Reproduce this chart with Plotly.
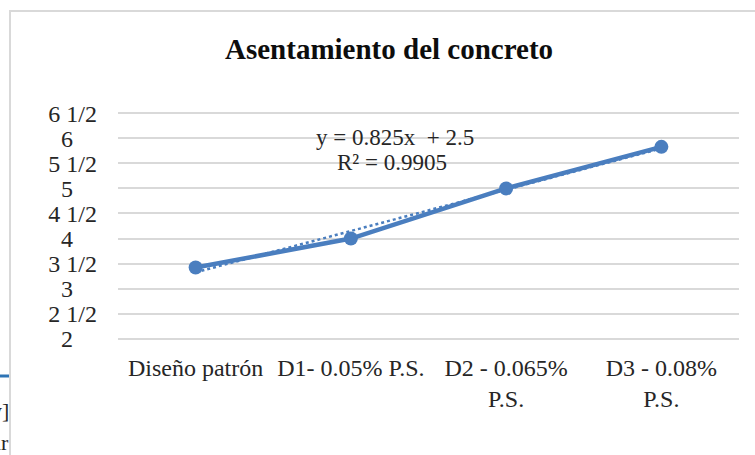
import numpy as np
import plotly.graph_objects as go

# Slump test results per mix design
categories = ["Diseño patrón", "D1- 0.05% P.S.", "D2 - 0.065%<br>P.S.", "D3 - 0.08%<br>P.S."]
slump = [3.42, 4.0, 5.0, 5.83]

# Linear trendline coefficients shown on the chart
slope = 0.825
intercept = 2.5
r_squared = 0.9905

# Y-axis ticks written as inch fractions
y_ticks = [2, 2.5, 3, 3.5, 4, 4.5, 5, 5.5, 6, 6.5]
y_tick_text = ["2", "2 1/2", "3", "3 1/2", "4", "4 1/2", "5", "5 1/2", "6", "6 1/2"]

W, H = 755, 455
BLUE = "#4a7ebf"
GRID = "#d9d9d9"
SERIF = "Liberation Serif, Times New Roman, serif"

x_pos = np.arange(1, len(categories) + 1)
trend_x = np.array([x_pos[0], x_pos[-1]], dtype=float)
trend_y = slope * trend_x + intercept

pad = "\u00a0" * 4
tick_text = [t if " " in t else t + pad for t in y_tick_text]

fig = go.Figure()
fig.add_trace(go.Scatter(
    x=trend_x, y=trend_y, mode="lines",
    line=dict(color=BLUE, width=2.5, dash="dot"),
    hoverinfo="skip", showlegend=False,
))
fig.add_trace(go.Scatter(
    x=x_pos, y=slump, mode="lines+markers",
    line=dict(color=BLUE, width=4.5),
    marker=dict(color=BLUE, size=14),
    showlegend=False,
))


def px_x(p):
    return p / W


def px_y(p):
    return 1 - p / H


y_lo, y_hi = 1.95, 6.55
fig.update_layout(
    width=W, height=H,
    margin=dict(l=0, r=0, t=0, b=0, pad=0, autoexpand=False),
    paper_bgcolor="white", plot_bgcolor="white",
    font=dict(family=SERIF, size=24, color="#262626"),
    xaxis=dict(
        domain=[px_x(118), px_x(739)],
        range=[0.5, len(categories) + 0.5],
        tickvals=list(x_pos), ticktext=categories,
        showgrid=False, zeroline=False, showline=False,
        ticks="", ticklabelstandoff=10, automargin=False,
        tickfont=dict(size=24, color="#262626"),
    ),
    yaxis=dict(
        domain=[px_y(341.2), px_y(110.8)],
        range=[y_lo, y_hi],
        tickvals=y_ticks, ticktext=tick_text,
        showgrid=True, gridcolor=GRID, gridwidth=2,
        zeroline=False, showline=False,
        ticks="", ticklabelstandoff=20, automargin=False,
        tickfont=dict(size=24, color="#262626"),
    ),
    annotations=[
        dict(text="<b>Asentamiento del concreto</b>", xref="paper", yref="paper",
             x=px_x(388.5), y=px_y(49), xanchor="center", yanchor="middle",
             showarrow=False, font=dict(family=SERIF, size=29, color="#0d0d0d")),
        dict(text=f"y = {slope}x  + {intercept}".replace("  ", " \u00a0"),
             xref="paper", yref="paper",
             x=px_x(395), y=px_y(137), xanchor="center", yanchor="middle",
             showarrow=False, font=dict(family=SERIF, size=23, color="#262626")),
        dict(text=f"R² = {r_squared}", xref="paper", yref="paper",
             x=px_x(392), y=px_y(162), xanchor="center", yanchor="middle",
             showarrow=False, font=dict(family=SERIF, size=23, color="#262626")),
        dict(text="y]", xref="paper", yref="paper",
             x=px_x(11), y=px_y(410), xanchor="right", yanchor="middle",
             showarrow=False, font=dict(family=SERIF, size=22, color="#262626")),
        dict(text="ir", xref="paper", yref="paper",
             x=px_x(11), y=px_y(442), xanchor="right", yanchor="middle",
             showarrow=False, font=dict(family=SERIF, size=22, color="#262626")),
    ],
    shapes=[
        # chart frame (continues past the right and bottom edges)
        dict(type="rect", xref="paper", yref="paper",
             x0=px_x(10), x1=px_x(770), y0=px_y(470), y1=px_y(11),
             line=dict(color=GRID, width=2), fillcolor="rgba(0,0,0,0)", layer="below"),
        # page rule at the left edge
        dict(type="line", xref="paper", yref="paper",
             x0=0, x1=px_x(9), y0=px_y(376), y1=px_y(376),
             line=dict(color="#2e74b5", width=3)),
    ],
)

fig.write_html("out.html")
